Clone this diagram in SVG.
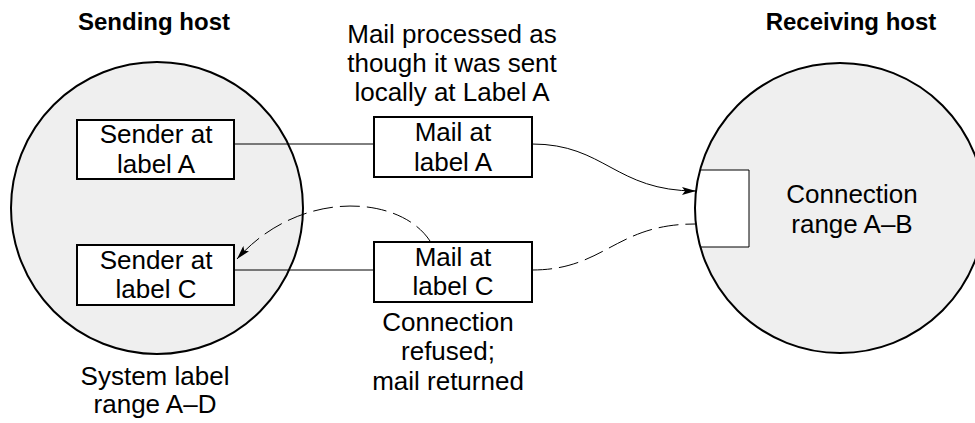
<svg xmlns="http://www.w3.org/2000/svg" width="975" height="423" viewBox="0 0 975 423">
<defs>
<style>
.t{font-family:"Liberation Sans",Arial,sans-serif;font-size:26px;fill:#000;text-anchor:middle}
.b{font-family:"Liberation Sans",Arial,sans-serif;font-size:24px;font-weight:bold;fill:#000;text-anchor:middle}
.host{fill:#efefef;stroke:none}
.ring{fill:none;stroke:#000;stroke-width:2}
.box{fill:#fff;stroke:#000;stroke-width:2}
.ln{fill:none;stroke:#000;stroke-width:1}
.dash{fill:none;stroke:#000;stroke-width:1;stroke-dasharray:20 7}
</style>
<marker id="ah" viewBox="0 0 14 8" refX="14" refY="4" markerWidth="14" markerHeight="8" markerUnits="userSpaceOnUse" orient="auto">
<path d="M0,0 L14,4 L0,8 L3,4 Z" fill="#000"/>
</marker>
</defs>
<rect width="975" height="423" fill="#fff"/>

<g id="sending-host">
<circle class="host" cx="157" cy="208" r="146"/>
<circle class="ring" cx="157" cy="208" r="146"/>
<text class="b" x="154" y="30">Sending host</text>
<text class="t" x="155" y="385">System label</text>
<text class="t" x="155" y="413">range A–D</text>
</g>

<g id="receiving-host">
<circle class="host" cx="840" cy="208" r="145"/>
<path d="M700,170 H749 V247 H700 A145 145 0 0 1 700 170 Z" fill="#fff" stroke="none"/>
<path d="M700,170 H749 V247 H700" class="ln"/>
<circle class="ring" cx="840" cy="208" r="145"/>
<text class="b" x="851" y="30">Receiving host</text>
<text class="t" x="852" y="203">Connection</text>
<text class="t" x="852" y="233">range A–B</text>
</g>

<g id="connectors">
<line class="ln" x1="235" y1="144" x2="374" y2="144"/>
<line class="ln" x1="235" y1="270" x2="374" y2="270"/>
<path class="ln" d="M532,144 C605,144 615,191 696,191" marker-end="url(#ah)"/>
<path class="dash" d="M532,270 C605,270 615,224 695,224"/>
<path class="dash" d="M430,241 C400,195 300,188 237,259" marker-end="url(#ah)"/>
</g>

<g id="sender-a">
<rect class="box" x="77" y="120" width="157" height="59"/>
<text class="t" x="156" y="143">Sender at</text>
<text class="t" x="156" y="173">label A</text>
</g>

<g id="sender-c">
<rect class="box" x="77" y="245" width="157" height="60"/>
<text class="t" x="156" y="269">Sender at</text>
<text class="t" x="156" y="298">label C</text>
</g>

<g id="mail-a">
<rect class="box" x="374" y="117" width="158" height="60"/>
<text class="t" x="453" y="141">Mail at</text>
<text class="t" x="453" y="171">label A</text>
</g>

<g id="mail-c">
<rect class="box" x="374" y="242" width="158" height="60"/>
<text class="t" x="453" y="266">Mail at</text>
<text class="t" x="453" y="295">label C</text>
</g>

<g id="note-processed">
<text class="t" x="452" y="43">Mail processed as</text>
<text class="t" x="452" y="72">though it was sent</text>
<text class="t" x="452" y="101">locally at Label A</text>
</g>

<g id="note-refused">
<text class="t" x="448" y="331">Connection</text>
<text class="t" x="448" y="360">refused;</text>
<text class="t" x="448" y="390">mail returned</text>
</g>
</svg>
